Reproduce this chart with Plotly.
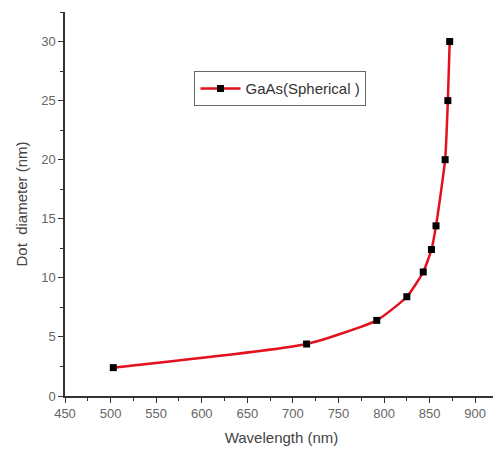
import plotly.graph_objects as go

wavelength = [503, 715, 792, 825, 843, 852, 857, 867, 870, 872]
diameter = [2.4, 4.4, 6.4, 8.4, 10.5, 12.4, 14.4, 20, 25, 30]
series_name = "GaAs(Spherical )"

fig = go.Figure()
fig.add_trace(go.Scatter(
    x=wavelength, y=diameter, mode="lines+markers", name=series_name,
    line=dict(color="#e3101e", width=2.5, shape="spline", smoothing=0.5),
    marker=dict(symbol="square", size=7, color="black"),
))

axis_font = dict(family="Liberation Sans, Arial, sans-serif", size=13, color="#666666")
title_font = dict(family="Liberation Sans, Arial, sans-serif", size=15, color="#444444")
fig.update_layout(
    width=493, height=448,
    margin=dict(l=56.5, r=3, t=4, b=60, autoexpand=False),
    paper_bgcolor="white", plot_bgcolor="white",
    showlegend=True,
    legend=dict(x=0.299, y=0.846, xanchor="left", yanchor="top",
                bordercolor="#666666", borderwidth=1, bgcolor="white",
                font=dict(family="Liberation Sans, Arial, sans-serif", size=15, color="#333333"),
                itemwidth=40, tracegroupgap=0),
    font=axis_font,
)
fig.update_xaxes(
    range=[450, 925], tickmode="linear", tick0=450, dtick=50,
    showline=True, linecolor="#333333", linewidth=1.5,
    ticks="outside", ticklen=5, tickcolor="#333333",
    minor=dict(ticks="outside", ticklen=3, dtick=25, tickcolor="#333333"),
    showgrid=False, zeroline=False, automargin=False,
    title=dict(text="Wavelength (nm)", font=title_font, standoff=12),
    tickfont=axis_font,
)
fig.update_yaxes(
    range=[0, 32.5], tickmode="linear", tick0=0, dtick=5,
    showline=True, linecolor="#333333", linewidth=1.5,
    ticks="outside", ticklen=5, tickcolor="#333333",
    minor=dict(ticks="outside", ticklen=3, dtick=2.5, tickcolor="#333333"),
    showgrid=False, zeroline=False, automargin=False,
    title=dict(text="Dot  diameter (nm)", font=title_font, standoff=10),
    tickfont=axis_font,
)

fig.write_html("out.html")
